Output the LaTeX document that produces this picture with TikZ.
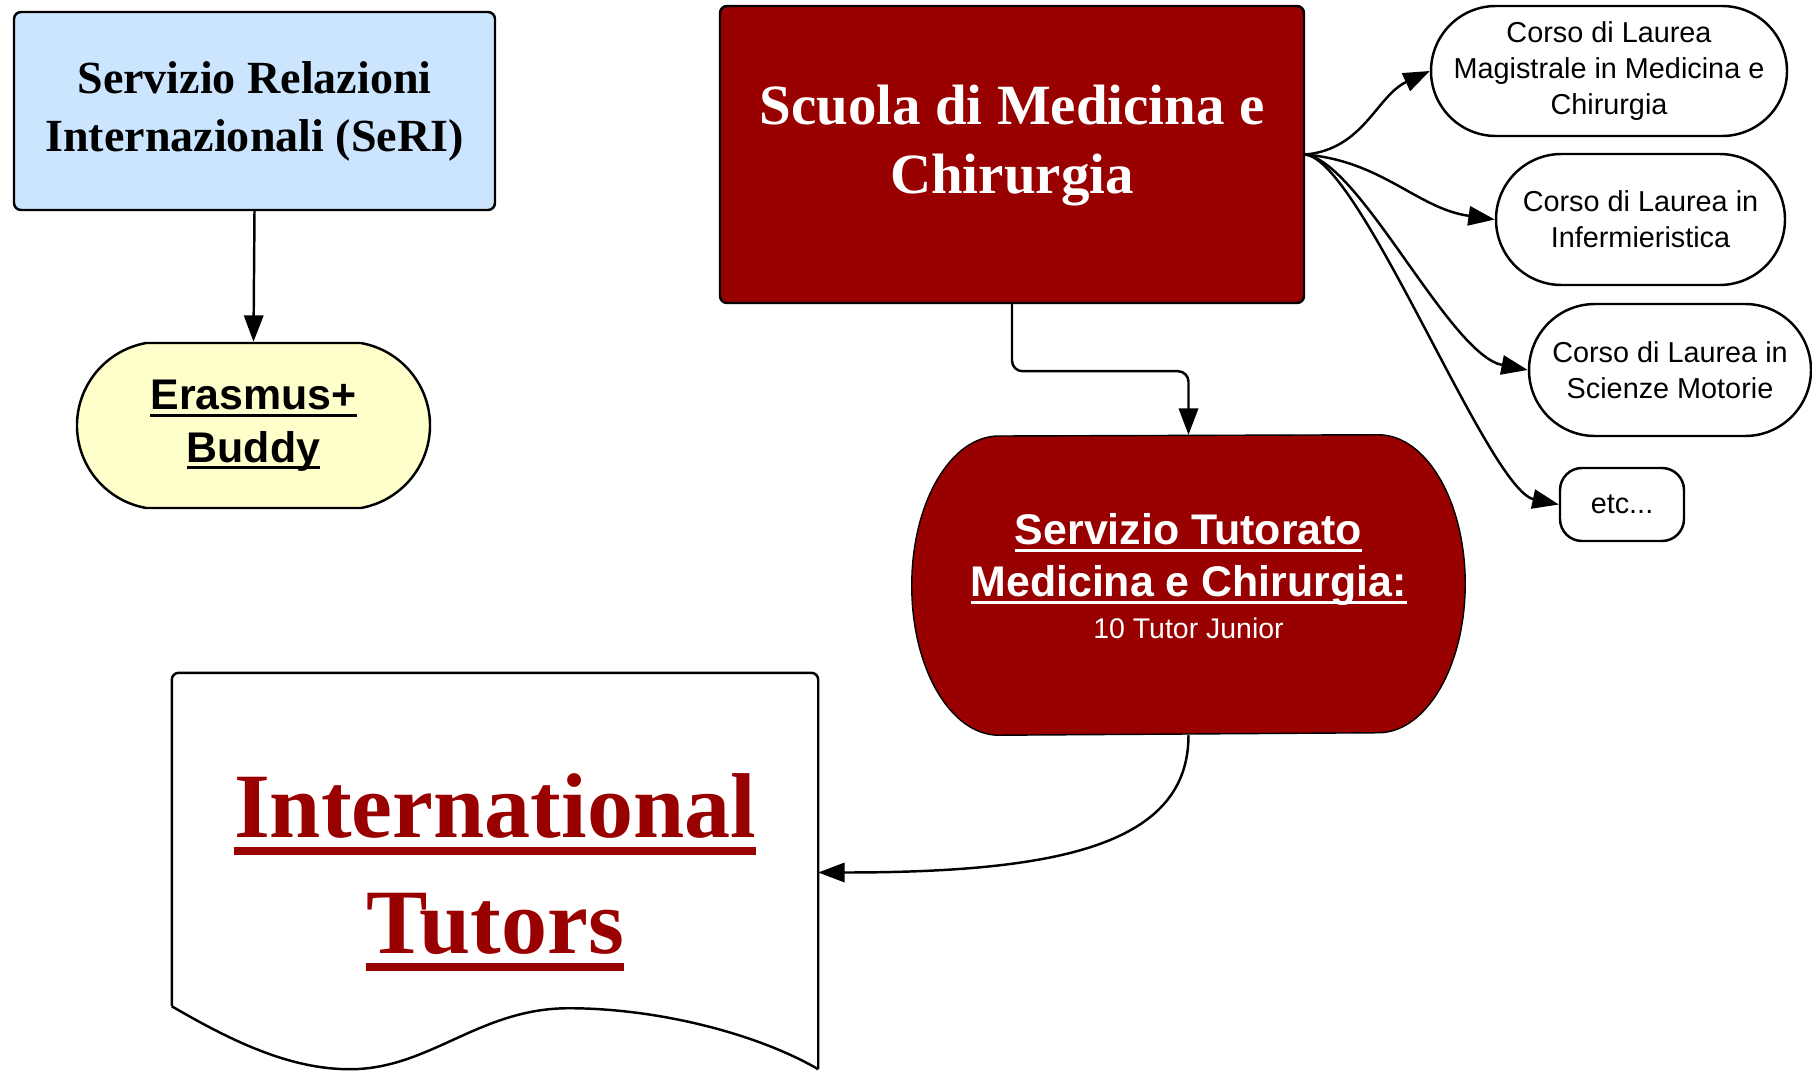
\documentclass[tikz,border=0pt]{standalone}
\usepackage{fontspec}
\setmainfont{Liberation Serif}
\setsansfont{Liberation Sans}
\usepackage{xcolor}
\usetikzlibrary{arrows.meta,shapes.misc,calc,backgrounds}

\definecolor{unired}{RGB}{153,0,0}
\definecolor{seriblue}{RGB}{204,229,255}
\definecolor{buddyyellow}{RGB}{255,255,204}

\newsavebox{\ulbox}
\newcommand{\ulined}[2][0.07em]{\sbox\ulbox{#2}\rlap{\rule[\dimexpr-0.1em-#1\relax]{\wd\ulbox}{#1}}\usebox\ulbox}

\begin{document}
\begin{tikzpicture}[
  line width=0.7pt,
  office/.style={draw, rounded corners=2pt, align=center, inner sep=0pt},
  course/.style={draw, fill=white, rounded rectangle, align=center, inner sep=0pt,
    font=\sffamily\fontsize{8.2}{10.2}\selectfont},
  arr/.style={-{Triangle[length=7.5pt,width=5.5pt]}, line width=0.7pt}
]
\useasboundingbox (0,0) rectangle (18.12,-10.71);

% Left column: international office and buddy programme
\node[office, fill=seriblue, minimum width=4.81cm, minimum height=1.98cm,
  font=\bfseries\fontsize{13.1}{16.5}\selectfont] (seri) at (2.545,-1.11)
  {Servizio Relazioni\\Internazionali (SeRI)};
\node[draw, fill=buddyyellow, rounded rectangle, rounded rectangle arc length=160,
  minimum width=3.53cm, minimum height=1.65cm, align=center, inner sep=0pt,
  font=\sffamily\bfseries\fontsize{12.2}{15}\selectfont] (buddy) at (2.535,-4.255)
  {\ulined{Erasmus+}\\\ulined{Buddy}};

% School and tutoring service
\node[office, fill=unired, text=white, minimum width=5.84cm, minimum height=2.97cm,
  text depth=0.3cm, font=\bfseries\fontsize{16.2}{19.7}\selectfont] (scuola) at (10.12,-1.545)
  {Scuola di Medicina e\\Chirurgia};
\node[text=white, minimum width=5.51cm, minimum height=2.98cm, align=center, inner sep=0pt,
  text depth=0.18cm, font=\sffamily\bfseries\fontsize{12.2}{14.8}\selectfont] (tutor) at (11.885,-5.85)
  {\ulined{Servizio Tutorato}\\\ulined{Medicina e Chirurgia:}\\[-2.8pt]{\mdseries\fontsize{8.1}{9.7}\selectfont 10 Tutor Junior}};
\begin{scope}[on background layer]
\draw[fill=unired] (tutor.west)
  arc[start angle=180, end angle=90, x radius=0.87cm, y radius=1.49cm]
  -- ([xshift=-0.87cm]tutor.north east)
  arc[start angle=90, end angle=-90, x radius=0.87cm, y radius=1.49cm]
  -- ([xshift=0.87cm]tutor.south west)
  arc[start angle=270, end angle=180, x radius=0.87cm, y radius=1.49cm] -- cycle;
\end{scope}

% Degree courses
\node[course, minimum width=3.52cm, minimum height=1.30cm] (cl1) at (16.09,-0.71)
  {Corso di Laurea\\Magistrale in Medicina e\\Chirurgia};
\node[course, minimum width=2.89cm, minimum height=1.31cm] (cl2) at (16.405,-2.195)
  {Corso di Laurea in\\Infermieristica};
\node[course, minimum width=2.82cm, minimum height=1.32cm] (cl3) at (16.70,-3.70)
  {Corso di Laurea in\\Scienze Motorie};
\node[draw, rounded corners=0.22cm, minimum width=1.24cm, minimum height=0.73cm, inner sep=0pt,
  font=\sffamily\fontsize{8.2}{10.2}\selectfont] (etc) at (16.22,-5.045) {etc...};

% International tutors (document sheet)
\node[minimum width=6.44cm, minimum height=3.97cm, align=center, inner sep=0pt, text=unired,
  font=\bfseries\fontsize{26.2}{33}\selectfont] (doc) at (4.95,-8.725)
  {\ulined[0.09em]{International}\\\ulined[0.09em]{Tutors}};
\draw[rounded corners=2pt] ([yshift=0.66cm]doc.south west) -- (doc.north west)
  -- (doc.north east) -- ([yshift=0.03cm]doc.south east);
\draw ([yshift=0.66cm]doc.south west) .. controls +(0.6,-0.35) and +(-0.6,0) .. ([shift={(1.78,0.03)}]doc.south west)
  .. controls +(0.8,0) and +(-0.9,0) .. ([shift={(3.97,0.64)}]doc.south west)
  .. controls +(0.9,0) and +(-0.6,0.35) .. ([yshift=0.03cm]doc.south east);

% Connectors
\draw[arr] (seri.south) -- (buddy.north);
\draw[arr, rounded corners=3pt] (scuola.south) -- ++(0,-0.67) -| (tutor.north);
\draw[arr] (tutor.south) .. controls +(0,-1.1) and +(2.4,0) .. (doc.east);
\draw[arr] (scuola.east) to[out=5, in=205] (cl1.west);
\draw[arr] (scuola.east) to[out=-5, in=172] (cl2.west);
\draw[arr] (scuola.east) to[out=-8, in=169, out distance=0.56cm, in distance=0.8cm] (cl3.west);
\draw[arr] (scuola.east) to[out=-6, in=168, out distance=0.56cm, in distance=0.72cm] (etc.west);

\end{tikzpicture}
\end{document}
